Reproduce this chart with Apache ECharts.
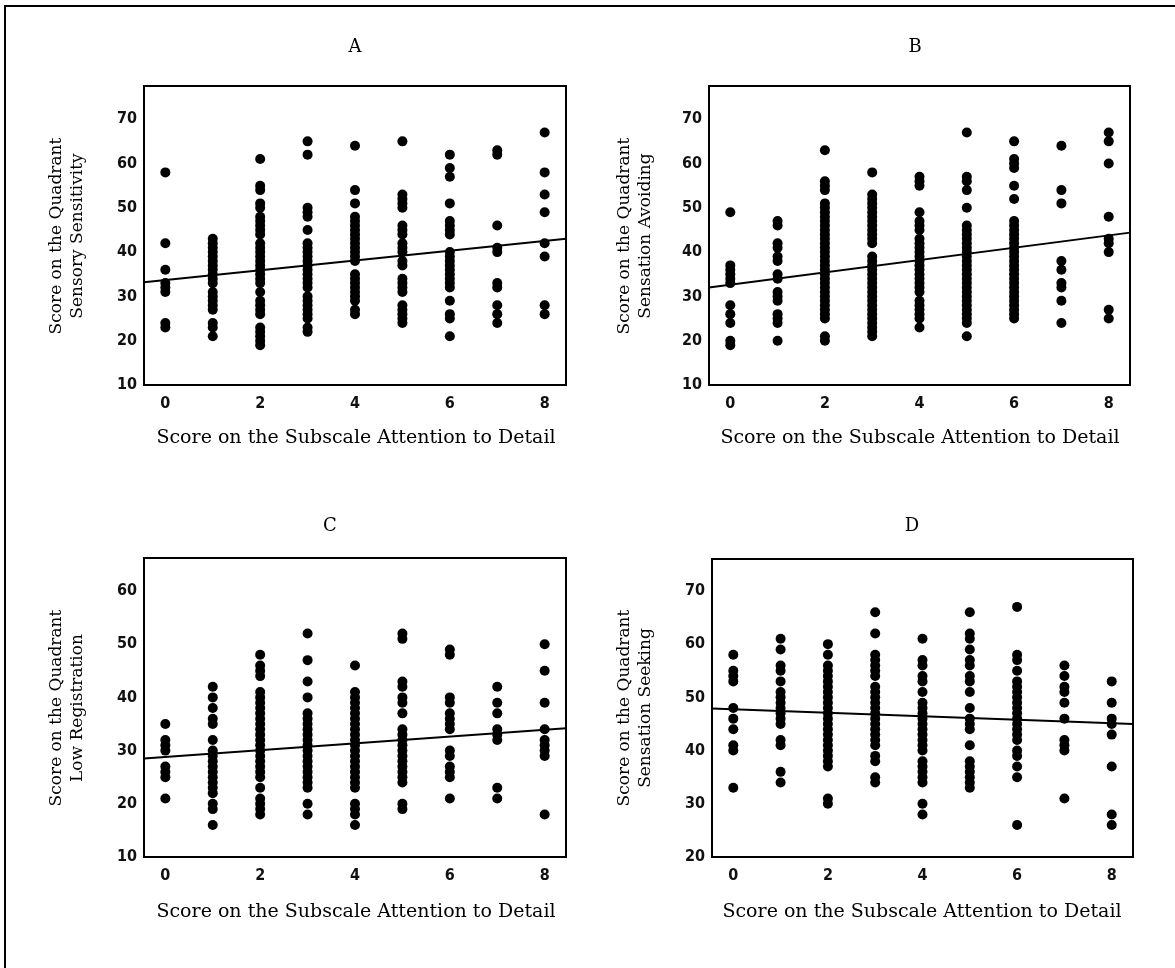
<!DOCTYPE html>
<html>
<head>
<meta charset="utf-8">
<script src="https://cdn.jsdelivr.net/npm/echarts@6/dist/echarts.min.js"></script>
<style>
  html, body { margin: 0; padding: 0; background: #fff; }
  #chart { width: 1175px; height: 968px; }
</style>
</head>
<body>
<div id="chart"></div>
<script>
// Score on the subscale "Attention to Detail" (x) and the tick labels shown
const xTickValues = [0, 2, 4, 6, 8];

// Quadrant scores per attention-to-detail score (index = score 0..8)
const sensorySensitivity = [
  [58, 42, 36, 33, 32, 31, 24, 23],
  [43, 42, 41, 40, 39, 38, 37, 36, 35, 34, 33, 31, 30, 29, 28, 27, 24, 23, 21],
  [61, 55, 54, 51, 50, 48, 47, 46, 45, 44, 42, 41, 40, 39, 38, 37, 36, 35, 34, 33, 31, 29, 28, 27, 26, 23, 22, 21, 20, 19],
  [65, 62, 50, 49, 48, 45, 42, 41, 40, 39, 38, 37, 36, 35, 34, 33, 32, 30, 29, 28, 27, 26, 25, 23, 22],
  [64, 54, 51, 48, 47, 46, 45, 44, 43, 42, 41, 40, 39, 38, 35, 34, 33, 32, 31, 30, 29, 27, 26],
  [65, 53, 52, 51, 50, 46, 45, 44, 42, 41, 40, 38, 37, 34, 33, 32, 31, 28, 27, 26, 25, 24],
  [62, 59, 57, 51, 47, 46, 45, 44, 40, 39, 38, 37, 36, 35, 34, 33, 32, 29, 26, 25, 21],
  [63, 62, 46, 41, 40, 33, 32, 28, 26, 24],
  [67, 58, 53, 49, 42, 39, 28, 26]
];
const sensationAvoiding = [
  [49, 37, 36, 35, 34, 33, 28, 26, 24, 20, 19],
  [47, 46, 42, 41, 39, 38, 35, 34, 31, 30, 29, 26, 25, 24, 20],
  [63, 56, 55, 54, 51, 50, 49, 48, 47, 46, 45, 44, 43, 42, 41, 40, 39, 38, 37, 36, 35, 34, 33, 32, 31, 30, 29, 28, 27, 26, 25, 21, 20],
  [58, 53, 52, 51, 50, 49, 48, 47, 46, 45, 44, 43, 42, 39, 38, 37, 36, 35, 34, 33, 32, 31, 30, 29, 28, 27, 26, 25, 24, 23, 22, 21],
  [57, 56, 55, 49, 47, 46, 45, 43, 42, 41, 40, 39, 38, 37, 36, 35, 34, 33, 32, 31, 29, 28, 27, 26, 25, 23],
  [67, 57, 56, 54, 50, 46, 45, 44, 43, 42, 41, 40, 39, 38, 37, 36, 35, 34, 33, 32, 31, 30, 29, 28, 27, 26, 25, 24, 21],
  [65, 61, 60, 59, 55, 52, 47, 46, 45, 44, 43, 42, 41, 40, 39, 38, 37, 36, 35, 34, 33, 32, 31, 30, 29, 28, 27, 26, 25],
  [64, 54, 51, 38, 36, 33, 32, 29, 24],
  [67, 65, 60, 48, 43, 42, 40, 27, 25]
];
const lowRegistration = [
  [35, 32, 31, 30, 27, 26, 25, 21],
  [42, 40, 38, 36, 35, 32, 30, 29, 28, 27, 26, 25, 24, 23, 22, 20, 19, 16],
  [48, 46, 45, 44, 41, 40, 39, 38, 37, 36, 35, 34, 33, 32, 31, 30, 29, 28, 27, 26, 25, 23, 21, 20, 19, 18],
  [52, 47, 43, 40, 37, 36, 35, 34, 33, 32, 31, 30, 29, 28, 27, 26, 25, 24, 23, 20, 18],
  [46, 41, 40, 39, 38, 37, 36, 35, 34, 33, 32, 31, 30, 29, 28, 27, 26, 25, 24, 23, 20, 19, 18, 16],
  [52, 51, 43, 42, 40, 39, 37, 34, 33, 32, 31, 30, 29, 28, 27, 26, 25, 24, 20, 19],
  [49, 48, 40, 39, 37, 36, 35, 34, 30, 29, 27, 26, 25, 21],
  [42, 39, 37, 34, 33, 32, 23, 21],
  [50, 45, 39, 34, 32, 31, 30, 29, 18]
];
const sensationSeeking = [
  [58, 55, 54, 53, 48, 46, 44, 41, 40, 33],
  [61, 59, 56, 55, 53, 51, 50, 49, 48, 47, 46, 45, 42, 41, 36, 34],
  [60, 58, 56, 55, 54, 53, 52, 51, 50, 49, 48, 47, 46, 45, 44, 43, 42, 41, 40, 39, 38, 37, 31, 30],
  [66, 62, 58, 57, 56, 55, 54, 52, 51, 50, 49, 48, 47, 46, 45, 44, 43, 42, 41, 39, 38, 35, 34],
  [61, 57, 56, 54, 53, 51, 49, 48, 47, 46, 45, 44, 43, 42, 41, 40, 38, 37, 36, 35, 34, 30, 28],
  [66, 62, 61, 59, 57, 56, 54, 53, 51, 48, 46, 45, 44, 41, 38, 37, 36, 35, 34, 33],
  [67, 58, 57, 55, 53, 52, 51, 50, 49, 48, 47, 46, 45, 44, 43, 42, 40, 39, 37, 35, 26],
  [56, 54, 52, 51, 49, 46, 42, 41, 40, 31],
  [53, 49, 46, 45, 43, 37, 28, 26]
];

// Fitted regression lines, as [x, y] end points across the plotted x range
const fitSensorySensitivity = [[-0.45, 33.2], [8.45, 43.0]];
const fitSensationAvoiding  = [[-0.45, 32.0], [8.45, 44.4]];
const fitLowRegistration    = [[-0.45, 28.5], [8.45, 34.2]];
const fitSensationSeeking   = [[-0.45, 47.9], [8.45, 45.0]];

// Y tick labels per panel
const yTicksA = [10, 20, 30, 40, 50, 60, 70];
const yTicksB = [10, 20, 30, 40, 50, 60, 70];
const yTicksC = [10, 20, 30, 40, 50, 60];
const yTicksD = [20, 30, 40, 50, 60, 70];

const xTitle = 'Score on the Subscale Attention to Detail';

const SERIF = '"DejaVu Serif", "Liberation Serif", serif';
const TICK_FONT = '"DejaVu Sans Condensed", "Liberation Sans Narrow", "DejaVu Sans", sans-serif';

const panels = [
  { letter: 'A', values: sensorySensitivity, fit: fitSensorySensitivity, yTicks: yTicksA, yMin: 10, yMax: 77.5,
    grid: { left: 144, top: 86, width: 422, height: 299 },
    letterPos: [355, 47], xTitlePos: [356, 438], yTitlePos: [67, 236],
    yTitle: 'Score on the Quadrant\nSensory Sensitivity' },
  { letter: 'B', values: sensationAvoiding, fit: fitSensationAvoiding, yTicks: yTicksB, yMin: 10, yMax: 77.5,
    grid: { left: 709, top: 86, width: 421, height: 299 },
    letterPos: [915, 47], xTitlePos: [920, 438], yTitlePos: [635, 236],
    yTitle: 'Score on the Quadrant\nSensation Avoiding' },
  { letter: 'C', values: lowRegistration, fit: fitLowRegistration, yTicks: yTicksC, yMin: 10, yMax: 66.2,
    grid: { left: 144, top: 558, width: 422, height: 299 },
    letterPos: [330, 526], xTitlePos: [356, 912], yTitlePos: [67, 708],
    yTitle: 'Score on the Quadrant\nLow Registration' },
  { letter: 'D', values: sensationSeeking, fit: fitSensationSeeking, yTicks: yTicksD, yMin: 20, yMax: 76,
    grid: { left: 712, top: 559, width: 421, height: 298 },
    letterPos: [912, 526], xTitlePos: [922, 912], yTitlePos: [635, 708],
    yTitle: 'Score on the Quadrant\nSensation Seeking' }
];

const grids = [], xAxes = [], yAxes = [], series = [], graphics = [];

// Outer frame
graphics.push({
  type: 'rect', silent: true,
  shape: { x: 5, y: 6, width: 1200, height: 1000 },
  style: { fill: 'none', stroke: '#000', lineWidth: 2 }
});

panels.forEach((p, i) => {
  grids.push(Object.assign({ show: true, borderColor: '#000', borderWidth: 2, backgroundColor: 'transparent' }, p.grid));
  xAxes.push({
    type: 'value', gridIndex: i, min: -0.45, max: 8.45,
    axisLine: { show: false }, axisTick: { show: false }, splitLine: { show: false },
    axisLabel: { customValues: xTickValues, margin: 11, color: '#111', fontFamily: TICK_FONT, fontWeight: 'bold', fontSize: 16 }
  });
  yAxes.push({
    type: 'value', gridIndex: i, min: p.yMin, max: p.yMax,
    axisLine: { show: false }, axisTick: { show: false }, splitLine: { show: false },
    axisLabel: { customValues: p.yTicks, margin: 7, color: '#111', fontFamily: TICK_FONT, fontWeight: 'bold', fontSize: 16 }
  });

  const points = [];
  p.values.forEach((col, score) => col.forEach(v => points.push([score, v])));
  series.push({
    type: 'scatter', xAxisIndex: i, yAxisIndex: i, data: points,
    symbol: 'circle', symbolSize: 10, itemStyle: { color: '#000', opacity: 1 }, silent: true
  });
  series.push({
    type: 'line', xAxisIndex: i, yAxisIndex: i, data: p.fit,
    symbol: 'none', lineStyle: { color: '#000', width: 2 }, silent: true, z: 3
  });

  graphics.push({
    type: 'text', x: p.letterPos[0], y: p.letterPos[1], silent: true,
    style: { text: p.letter, fontFamily: SERIF, fontSize: 18, fill: '#000', align: 'center', verticalAlign: 'middle' }
  });
  graphics.push({
    type: 'text', x: p.xTitlePos[0], y: p.xTitlePos[1], silent: true,
    style: { text: xTitle, fontFamily: SERIF, fontSize: 19, fill: '#000', align: 'center', verticalAlign: 'middle' }
  });
  graphics.push({
    type: 'text', x: p.yTitlePos[0], y: p.yTitlePos[1], rotation: Math.PI / 2, silent: true,
    style: { text: p.yTitle, fontFamily: SERIF, fontSize: 17, lineHeight: 21, fill: '#000', align: 'center', verticalAlign: 'middle' }
  });
});

const chart = echarts.init(document.getElementById('chart'), null, { renderer: 'canvas' });
chart.setOption({
  animation: false,
  backgroundColor: '#fff',
  grid: grids,
  xAxis: xAxes,
  yAxis: yAxes,
  series: series,
  graphic: graphics
});
</script>
</body>
</html>
